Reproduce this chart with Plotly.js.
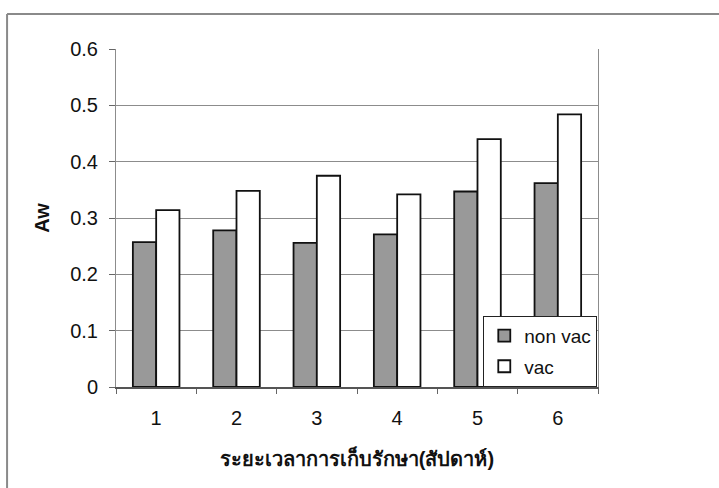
<!DOCTYPE html>
<html>
<head>
<meta charset="utf-8">
<script src="https://cdn.plot.ly/plotly-3.0.1.min.js"></script>
<style>
  html, body { margin: 0; padding: 0; background: #ffffff; }
  #chart { width: 719px; height: 488px; }
</style>
</head>
<body>
<div id="chart"></div>
<script>
// Storage time (weeks) and water activity for the two packaging treatments
const weeks = ['1', '2', '3', '4', '5', '6'];
const nonVac = [0.257, 0.278, 0.256, 0.271, 0.347, 0.362];
const vac = [0.314, 0.348, 0.375, 0.342, 0.440, 0.484];
const seriesNames = ['non vac', 'vac'];
const yTicks = [0, 0.1, 0.2, 0.3, 0.4, 0.5, 0.6];
const yTickText = ['0', '0.1', '0.2', '0.3', '0.4', '0.5', '0.6'];

const FONT = 'Liberation Sans, Arial, sans-serif';
const gridGrey = '#8c8c8c';

const traces = [
  {
    type: 'bar', name: seriesNames[0], x: weeks, y: nonVac,
    legendgroup: 'a',
    marker: { color: '#999999', line: { color: '#111111', width: 1.8 } }
  },
  {
    type: 'bar', name: seriesNames[1], x: weeks, y: vac,
    legendgroup: 'b',
    marker: { color: '#ffffff', line: { color: '#111111', width: 1.8 } }
  }
];

const layout = {
  width: 719, height: 488,
  margin: { l: 116, r: 121, t: 49, b: 101 },
  paper_bgcolor: '#ffffff', plot_bgcolor: '#ffffff',
  font: { family: FONT, size: 20, color: '#111111' },
  barmode: 'group', bargap: 0.42, bargroupgap: 0,
  showlegend: true,
  legend: {
    x: 0.762, y: 0.211, xanchor: 'left', yanchor: 'top',
    bgcolor: '#ffffff', bordercolor: '#222222', borderwidth: 1,
    font: { family: FONT, size: 19, color: '#111111' },
    itemwidth: 30,
    traceorder: 'grouped', tracegroupgap: 3
  },
  xaxis: {
    type: 'category', tickson: 'boundaries',
    ticks: 'outside', ticklen: 5, tickcolor: '#666666',
    showline: true, linecolor: '#555555', linewidth: 1.5,
    showgrid: false, zeroline: false,
    tickfont: { family: FONT, size: 20 },
    ticklabelstandoff: 12,
    title: { text: 'ระยะเวลาการเก็บรักษา(สัปดาห์)', font: { family: FONT, size: 20, weight: 'bold' }, standoff: 24 }
  },
  yaxis: {
    range: [0, 0.6], tickvals: yTicks, ticktext: yTickText,
    ticks: 'outside', ticklen: 6, tickcolor: '#666666',
    showline: true, mirror: true, linecolor: gridGrey, linewidth: 1,
    showgrid: true, gridcolor: gridGrey, gridwidth: 1,
    zeroline: false,
    tickfont: { family: FONT, size: 20 },
    ticklabelstandoff: 7,
    title: { text: 'Aw', font: { family: FONT, size: 20, weight: 'bold' }, standoff: 15 }
  },
  shapes: [
    // outer chart-area frame (top and left edges)
    { type: 'line', xref: 'paper', yref: 'paper', x0: -0.226, x1: 1.4, y0: 1.1036, y1: 1.1036,
      line: { color: '#8a8a8a', width: 2 } },
    { type: 'line', xref: 'paper', yref: 'paper', x0: -0.226, x1: -0.226, y0: 1.1036, y1: -0.4,
      line: { color: '#8a8a8a', width: 2 } }
  ]
};

Plotly.newPlot('chart', traces, layout, { displayModeBar: false, staticPlot: true });
</script>
</body>
</html>
